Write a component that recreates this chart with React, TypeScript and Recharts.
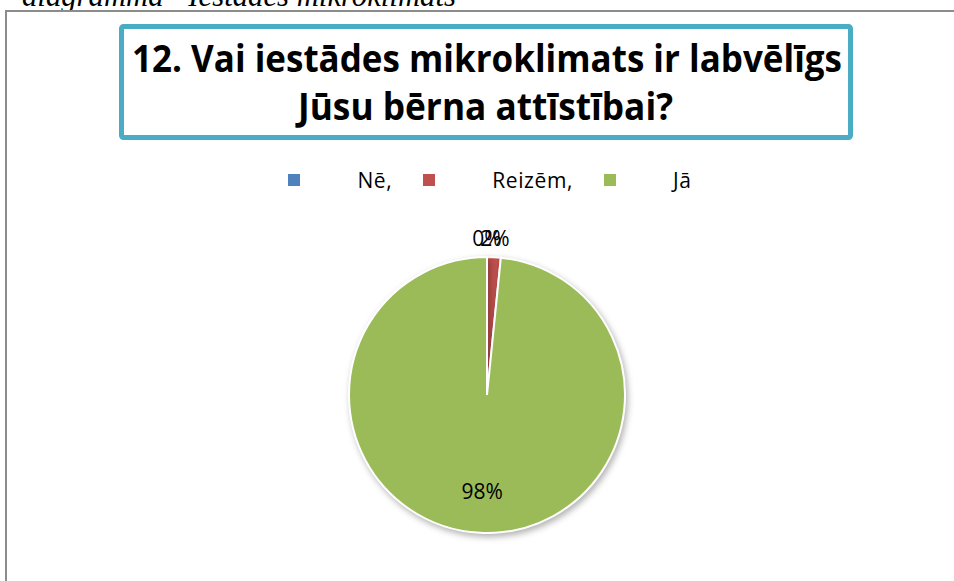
import { Cell, Legend, Pie, PieChart } from "recharts";

const CATEGORIES = ["Nē,", "Reizēm,", "Jā"];
const SHARES = [0, 1.6, 98.4];
const COLORS = ["#4f81bd", "#c0504d", "#9bbb59"];

const TITLE_LINES = ["12. Vai iestādes mikroklimats ir labvēlīgs", "Jūsu bērna attīstībai?"];
const CAPTION = "diagramma “Iestādes mikroklimats”";

const data = CATEGORIES.map((name, i) => ({ name, value: SHARES[i] }));

const FONT = "'Open Sans', 'Noto Sans', sans-serif";
const RADIAN = Math.PI / 180;

function renderLabel(props: any) {
  const { cx, cy, midAngle, outerRadius, percent } = props;
  const small = percent < 0.05;
  const r = small ? outerRadius + 19 : outerRadius * 0.7;
  const x = cx + r * Math.cos(-midAngle * RADIAN);
  const y = cy + r * Math.sin(-midAngle * RADIAN);
  return (
    <text x={x} y={y} fill="#000" fontSize={21} fontFamily={FONT} textAnchor="middle" dominantBaseline="central">
      {`${Math.round(percent * 100)}%`}
    </text>
  );
}

function LegendRow({ payload }: any) {
  const items = [...(payload || [])].sort(
    (a: any, b: any) => CATEGORIES.indexOf(a.value) - CATEGORIES.indexOf(b.value)
  );
  return (
    <div style={{ display: "flex", justifyContent: "center", alignItems: "center", paddingLeft: 26, fontFamily: FONT, fontSize: 21, color: "#000" }}>
      {items.map((p: any, i: number) => (
        <div key={i} style={{ display: "flex", alignItems: "center", marginRight: i < items.length - 1 ? 31 : 0 }}>
          <span style={{ width: 12, height: 12, background: p.color, display: "inline-block", marginRight: 57 }} />
          <span style={{ letterSpacing: 0.6 }}>{p.value}</span>
        </div>
      ))}
    </div>
  );
}

export default function App() {
  return (
    <div style={{ position: "absolute", left: 0, top: 0, width: 954, height: 581, overflow: "hidden", background: "#fff" }}>
      <style>{`.recharts-pie .recharts-sector { filter: drop-shadow(2px 3px 3px rgba(0,0,0,0.3)); }`}</style>
      <svg width={954} height={581} style={{ position: "absolute", left: 0, top: 0 }}>
        <text x={22} y={6} fontFamily="'Liberation Serif', serif" fontStyle="italic" fontSize={31} fill="#000" textLength={451} lengthAdjust="spacingAndGlyphs">
          {CAPTION}
        </text>
        <rect x={6} y={11} width={960} height={600} fill="#fff" stroke="#8c8c8c" strokeWidth={2} />
        <rect x={121.5} y={26.5} width={729} height={111} fill="#fff" stroke="#4bacc6" strokeWidth={5} rx={2} />
        <text x={132} y={72} fontFamily={FONT} fontWeight={700} fontSize={38} textLength={710} lengthAdjust="spacingAndGlyphs">
          {TITLE_LINES[0]}
        </text>
        <text x={298} y={120} fontFamily={FONT} fontWeight={700} fontSize={38} textLength={375} lengthAdjust="spacingAndGlyphs">
          {TITLE_LINES[1]}
        </text>
      </svg>
      <div style={{ position: "absolute", left: 0, top: 0 }}>
        <PieChart width={954} height={581} margin={{ top: 0, right: 0, bottom: 0, left: 0 }}>
          <Legend
            verticalAlign="middle"
            align="center"
            layout="horizontal"
            content={<LegendRow />}
            wrapperStyle={{ top: 166, left: 0, width: 954 }}
          />
          <Pie
            data={data}
            dataKey="value"
            nameKey="name"
            cx={487}
            cy={395}
            outerRadius={138}
            startAngle={90}
            endAngle={-270}
            stroke="#fff"
            strokeWidth={2}
            label={renderLabel}
            labelLine={false}
            isAnimationActive={false}
          >
            {data.map((_, i) => (
              <Cell key={i} fill={COLORS[i]} />
            ))}
          </Pie>
        </PieChart>
      </div>
    </div>
  );
}
